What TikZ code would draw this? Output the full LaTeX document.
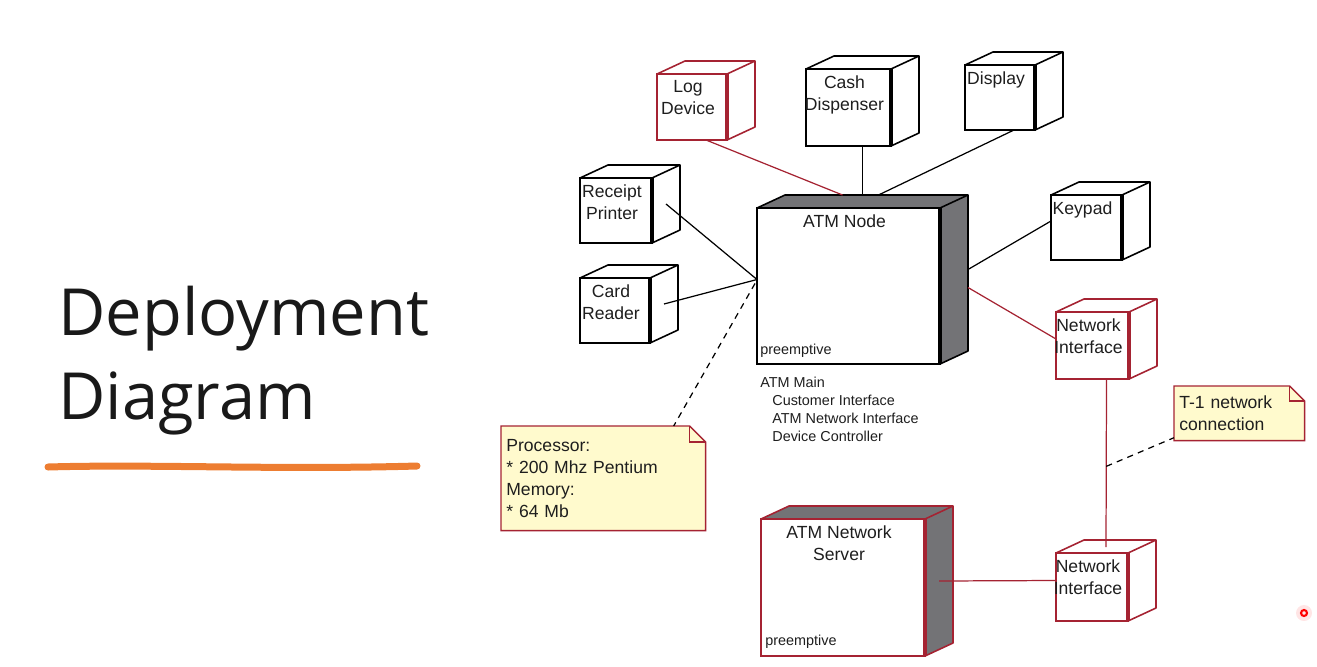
\documentclass[tikz,border=0pt]{standalone}
\usepackage{fontspec}
\setmainfont{Liberation Sans}
\newfontfamily\titlefont{Open Sans}
\usetikzlibrary{calc,backgrounds}

\definecolor{umlred}{RGB}{165,35,50}
\definecolor{sidegray}{RGB}{115,115,118}
\definecolor{notefill}{RGB}{255,250,205}
\definecolor{penorange}{RGB}{237,125,49}
\definecolor{inkgray}{RGB}{30,30,30}

\tikzset{
    devlabel/.style={font=\fontsize{10}{12.5}\selectfont, align=center, inner sep=0pt, text=inkgray},
    smalltext/.style={font=\fontsize{8.2}{10.2}\selectfont, align=left, inner sep=0pt, text=inkgray},
    notetext/.style={font=\fontsize{10}{12.5}\selectfont, align=left, inner xsep=0.1cm, inner ysep=0pt, text=inkgray},
    titletext/.style={font=\titlefont\fontsize{37}{47}\selectfont, inner sep=0pt, text=black!90},
    conn/.style={line width=0.7pt},
}

\NewDocumentCommand{\drawdeviceX}{m m m m m m m m}{
    \def\bx{#2}
    \def\by{#3}
    \def\bw{#4}
    \def\bh{#5}

    % the whole box, only for the connectors
    \node[inner sep=0pt, outer sep=0pt, minimum width={(\bw+28)*0.02cm}, minimum height={(\bh+13)*0.02cm}, anchor=south west] (#1) at (\bx,\by+\bh) {};
    \coordinate (#1-side) at (\bx+\bw+14,\by+\bh/2-6.5);

    \draw[#6, fill=#7, line width=0.9pt, line join=round] (\bx,\by) -- (\bx+28,\by-13) -- (\bx+\bw+28,\by-13) -- (\bx+\bw+28,\by+\bh-13) -- (\bx+\bw,\by+\bh) -- (\bx+\bw,\by) -- cycle;
    \draw[#6, line width=0.9pt] (\bx+\bw,\by) -- (\bx+\bw+28,\by-13);
    \draw[#6, fill=white, line width=0.9pt] (\bx,\by) rectangle (\bx+\bw,\by+\bh);
    \draw[#6, line width=1.8pt] (\bx+\bw,\by) -- (\bx+\bw,\by+\bh);

    \node[devlabel, anchor=north] (#1-text) at (\bx+\bw/2-4,\by+6) {#8};
}

\begin{document}
\begin{tikzpicture}[x=0.02cm, y=-0.02cm]
    \useasboundingbox (0,0) rectangle (1317,666);

    % title
    \node[titletext, anchor=base west] (title1) at (58,335) {Deployment};
    \node[titletext, anchor=base west] (title2) at (58,419) {Diagram};
    \draw[penorange, line width=0.14cm, line cap=round] (48,467) .. controls (150,464) and (280,470) .. (417,466);

    % devices
    \drawdeviceX{logdev}{657}{74}{70}{66}{umlred}{white}{Log\\Device}
    \drawdeviceX{cash}{806}{69}{85}{77}{black}{white}{Cash\\Dispenser}
    \drawdeviceX{display}{965}{65}{70}{65}{black}{white}{Display}
    \drawdeviceX{receipt}{580}{178}{72}{65}{black}{white}{Receipt\\Printer}
    \drawdeviceX{card}{580}{278}{70}{65}{black}{white}{Card\\Reader}
    \drawdeviceX{keypad}{1051}{195}{71}{65}{black}{white}{Keypad}
    \drawdeviceX{netif}{1056}{312}{73}{67}{umlred}{white}{Network\\Interface}
    \drawdeviceX{netif2}{1056}{553}{72}{68}{umlred}{white}{Network\\Interface}

    % the two processors
    \drawdeviceX{atm}{757}{208}{183}{156}{black}{sidegray}{ATM Node}
    \node[smalltext, anchor=base west] (atm-pre) at ($(atm.south west)+(3,-10)$) {preemptive};
    \node[smalltext, anchor=north west] (atm-proc) at ($(atm.south west)+(3,13)$) {ATM Main\\\hspace*{0.24cm}Customer Interface\\\hspace*{0.24cm}ATM Network Interface\\\hspace*{0.24cm}Device Controller};

    \drawdeviceX{server}{761}{519}{164}{137}{umlred}{sidegray}{ATM Network\\Server}
    \node[smalltext, anchor=base west] (server-pre) at ($(server.south west)+(4,-11)$) {preemptive};

    % notes
    \node[notetext, text width=3.88cm, minimum height=2.08cm, anchor=north west] (procnote) at (501,426) {Processor:\\{}* 200 Mhz Pentium\\Memory:\\{}* 64 Mb};
    \node[notetext, text width=2.4cm, minimum height=1.08cm, anchor=north west] (t1note) at (1174,386) {T-1 network\\connection};
    \begin{scope}[on background layer]
        \filldraw[umlred, fill=notefill, line width=0.8pt] (procnote.south west) -- (procnote.north west) -- ($(procnote.north east)+(-16,0)$) -- ($(procnote.north east)+(0,16)$) -- (procnote.south east) -- cycle;
        \draw[umlred, line width=0.8pt] ($(procnote.north east)+(-16,0)$) |- ($(procnote.north east)+(0,16)$);
        \filldraw[umlred, fill=notefill, line width=0.8pt] (t1note.south west) -- (t1note.north west) -- ($(t1note.north east)+(-15,0)$) -- ($(t1note.north east)+(0,15)$) -- (t1note.south east) -- cycle;
        \draw[umlred, line width=0.8pt] ($(t1note.north east)+(-15,0)$) |- ($(t1note.north east)+(0,15)$);
    \end{scope}

    % connections
    \draw[conn, umlred] (logdev.south) -- ($(atm.north)+(-20,0)$);
    \draw[conn] (cash.south) -- (atm.north);
    \draw[conn] (display.south) -- ($(atm.north)+(16,0)$);
    \draw[conn] (receipt-side) -- (atm.west);
    \draw[conn] (card-side) -- (atm.west);
    \draw[conn, dash pattern=on 3.5pt off 3pt] ($(atm.west)+(-2,4)$) -- ($(procnote.north east)+(-32,0)$);
    \draw[conn] ($(atm.east)+(0,-10)$) -- (keypad.west);
    \draw[conn, umlred] ($(atm.east)+(0,8)$) -- (netif.west);
    \draw[conn, umlred] (netif.south) -- coordinate[pos=0.52] (t1link) ($(netif2.north)+(0,7)$);
    \draw[conn, dash pattern=on 3.5pt off 3pt] (t1link) -- ($(t1note.south west)+(0,-3)$);
    \draw[conn, umlred] (server-side) -- (netif2.west);

    % pointer dot
    \fill[red!10] (1304,613) circle[radius=0.16cm];
    \draw[red, line width=1.2pt] (1304,613) circle[radius=0.06cm];
\end{tikzpicture}
\end{document}
